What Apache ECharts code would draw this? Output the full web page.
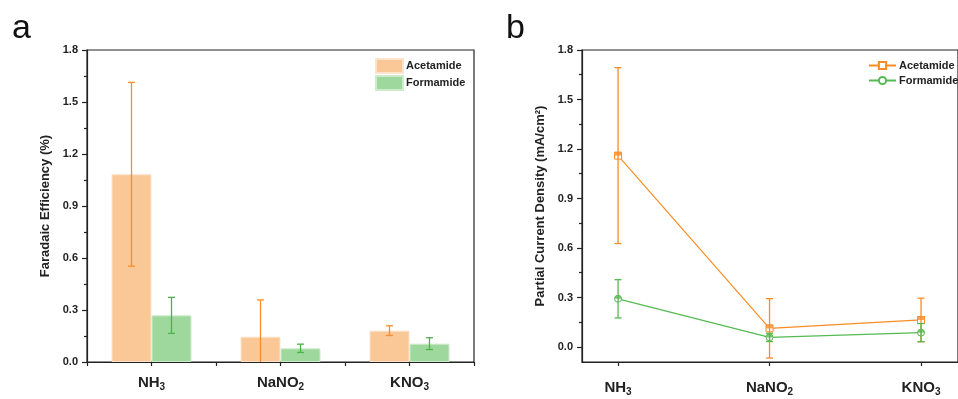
<!DOCTYPE html>
<html>
<head>
<meta charset="utf-8">
<script src="https://cdn.jsdelivr.net/npm/echarts@6/dist/echarts.min.js"></script>
<style>
  html, body { margin: 0; padding: 0; background: #fff; }
  #chart { width: 958px; height: 399px; }
</style>
</head>
<body>
<div id="chart"></div>
<script>
// categorías (se dibujan con subíndice en la etiqueta)
const categories = ["NH3", "NaNO2", "KNO3"];
const catRich = { NH3: "{m|NH}{s|3}", NaNO2: "{m|NaNO}{s|2}", KNO3: "{m|KNO}{s|3}" };

// panel a: eficiencia faradaica (%)
const acetFE = [1.083, 0.146, 0.181];
const acetFEErr = [0.53, 0.212, 0.028];
const formFE = [0.269, 0.079, 0.106];
const formFEErr = [0.104, 0.024, 0.034];

// panel b: densidad de corriente parcial (mA/cm2)
const acetJ = [1.16, 0.113, 0.164];
const acetJErr = [0.533, 0.18, 0.132];
const formJ = [0.292, 0.058, 0.087];
const formJErr = [0.116, 0.025, 0.055];

const yTicks = [0, 0.3, 0.6, 0.9, 1.2, 1.5, 1.8];
const yMinorTicks = [0.15, 0.45, 0.75, 1.05, 1.35, 1.65];
const catIdx = [0, 1, 2];

const C = {
  barO: "#FAC796", barG: "#9FD89D",
  errO: "#F98D2C", errG: "#4CB24A",
  lineO: "#F98C25", lineG: "#55BA52",
  ink: "#222",
};
const FONT = "'Liberation Sans', Arial, sans-serif";

const chart = echarts.init(document.getElementById("chart"), null, { renderer: "canvas" });

const rich = {
  m: { fontSize: 15, fontWeight: "bold", color: C.ink, fontFamily: FONT, lineHeight: 18 },
  s: { fontSize: 10, fontWeight: "bold", color: C.ink, fontFamily: FONT, lineHeight: 18, verticalAlign: "bottom", padding: [8, 0, 0, 0] },
};

const axisLine = { show: true, onZero: false, lineStyle: { color: C.ink, width: 1.2 } };
const tickStyle = { color: C.ink, width: 1.2 };
const tickLabel = { color: C.ink, fontSize: 11, fontWeight: "bold", fontFamily: FONT };
const nameStyle = { color: C.ink, fontSize: 13, fontWeight: "bold", fontFamily: FONT };

/** barras de error verticales (custom) con desplazamiento en px */
function errSeries(xi, yi, vals, errs, color, dx) {
  return {
    type: "custom",
    xAxisIndex: xi,
    yAxisIndex: yi,
    clip: true,
    z: 5,
    silent: true,
    data: vals.map((v, i) => [i, v - errs[i], v + errs[i]]),
    renderItem: (params, api) => {
      const lo = api.coord([api.value(0), api.value(1)]);
      const hi = api.coord([api.value(0), api.value(2)]);
      const x = lo[0] + dx;
      const w = 3.5;
      const st = { stroke: color, lineWidth: 1.3 };
      return {
        type: "group",
        children: [
          { type: "line", shape: { x1: x, y1: lo[1], x2: x, y2: hi[1] }, style: st },
          { type: "line", shape: { x1: x - w, y1: lo[1], x2: x + w, y2: lo[1] }, style: st },
          { type: "line", shape: { x1: x - w, y1: hi[1], x2: x + w, y2: hi[1] }, style: st },
        ],
      };
    },
  };
}

const halfRect = "path://M0,0 L10,0 L10,5 L0,5 Z";
const halfCircle = "path://M0,10 A10,10 0 0 1 20,10 Z";

/** línea con marcador hueco + mitad superior rellena */
function lineSeries(name, vals, color, symbol, halfPath) {
  const data = vals.map((v, i) => [i, v]);
  return [
    {
      name,
      type: "line",
      xAxisIndex: 2,
      yAxisIndex: 1,
      data,
      color,
      symbol,
      symbolSize: 7,
      showAllSymbol: true,
      lineStyle: { color, width: 1.2 },
      itemStyle: { color: "#fff", borderColor: color, borderWidth: 1 },
      z: 3,
    },
    {
      type: "scatter",
      xAxisIndex: 2,
      yAxisIndex: 1,
      data,
      symbol: halfPath,
      symbolSize: [7, 3.5],
      symbolOffset: [0, -1.75],
      itemStyle: { color },
      z: 6,
      silent: true,
    },
  ];
}

chart.setOption({
  animation: false,
  textStyle: { fontFamily: FONT },
  title: [
    { text: "a", left: 7, top: 7, textStyle: { fontSize: 34, fontWeight: "normal", color: "#111", fontFamily: FONT } },
    { text: "b", left: 501, top: 7, textStyle: { fontSize: 34, fontWeight: "normal", color: "#111", fontFamily: FONT } },
  ],
  grid: [
    { left: 87, top: 50, width: 387, height: 312, show: true, borderColor: C.ink, borderWidth: 1.2, backgroundColor: "transparent" },
    { left: 582, top: 50, width: 386, height: 312, show: true, borderColor: C.ink, borderWidth: 1.2, backgroundColor: "transparent" },
  ],
  legend: [
    {
      orient: "vertical",
      left: 375,
      top: 58,
      padding: 0,
      itemWidth: 27,
      itemHeight: 14,
      itemGap: 1,
      icon: "rect",
      data: ["Acetamide", "Formamide"],
      textStyle: { color: C.ink, fontSize: 11, fontWeight: "bold", fontFamily: FONT, padding: [0, 0, 0, -2] },
    },
    {
      orient: "vertical",
      left: 868,
      top: 60,
      padding: 0,
      itemWidth: 27,
      itemHeight: 9,
      itemGap: 4,
      data: ["Acetamide_b", "Formamide_b"],
      formatter: (n) => n.replace("_b", ""),
      textStyle: { color: C.ink, fontSize: 11, fontWeight: "bold", fontFamily: FONT, padding: [0, 0, 0, -2] },
    },
  ],
  xAxis: [
    {
      // panel a: etiquetas y ticks en los bordes de banda
      type: "category",
      gridIndex: 0,
      data: categories,
      axisLine,
      axisTick: { show: true, length: 4, lineStyle: tickStyle },
      axisLabel: { margin: 12, formatter: (v) => catRich[v], rich },
      splitLine: { show: false },
    },
    {
      // panel a: ticks al centro de cada categoría
      type: "value",
      gridIndex: 0,
      position: "bottom",
      min: -0.5,
      max: 2.5,
      axisLine: { show: false, onZero: false },
      axisTick: { show: true, length: 4, customValues: catIdx, lineStyle: tickStyle },
      axisLabel: { show: false, customValues: catIdx },
      splitLine: { show: false },
    },
    {
      type: "value",
      gridIndex: 1,
      min: -0.238,
      max: 2.244,
      axisLine,
      axisTick: { show: true, length: 4, customValues: catIdx, lineStyle: tickStyle },
      axisLabel: { margin: 17, customValues: catIdx, formatter: (v) => catRich[categories[Math.round(v)]], rich },
      splitLine: { show: false },
    },
  ],
  yAxis: [
    {
      type: "value",
      gridIndex: 0,
      min: 0,
      max: 1.8,
      interval: 0.3,
      name: "Faradaic Efficiency (%)",
      nameLocation: "middle",
      nameGap: 35,
      nameTextStyle: nameStyle,
      axisLine,
      axisTick: { show: true, length: 5, lineStyle: tickStyle },
      minorTick: { show: true, splitNumber: 2, length: 3, lineStyle: tickStyle },
      axisLabel: { ...tickLabel, margin: 9, formatter: (v) => v.toFixed(1) },
      splitLine: { show: false },
    },
    {
      type: "value",
      gridIndex: 1,
      min: -0.091,
      max: 1.8,
      name: "Partial Current Density (mA/cm²)",
      nameLocation: "middle",
      nameGap: 35,
      nameTextStyle: nameStyle,
      axisLine,
      axisTick: { show: true, length: 5, customValues: yTicks, lineStyle: tickStyle },
      axisLabel: { ...tickLabel, margin: 9, customValues: yTicks, formatter: (v) => v.toFixed(1) },
      splitLine: { show: false },
    },
    {
      type: "value",
      gridIndex: 1,
      position: "left",
      min: -0.091,
      max: 1.8,
      axisLine: { show: false, onZero: false },
      axisTick: { show: true, length: 3, customValues: yMinorTicks, lineStyle: tickStyle },
      axisLabel: { show: false, customValues: yMinorTicks },
      splitLine: { show: false },
    },
  ],
  series: [
    {
      name: "Acetamide",
      type: "bar",
      xAxisIndex: 0,
      yAxisIndex: 0,
      data: acetFE,
      barWidth: 40,
      barGap: "0%",
      itemStyle: { color: C.barO, borderColor: "#FDE3CB", borderWidth: 1 },
    },
    {
      name: "Formamide",
      type: "bar",
      xAxisIndex: 0,
      yAxisIndex: 0,
      data: formFE,
      barWidth: 40,
      barGap: "0%",
      itemStyle: { color: C.barG, borderColor: "#CFEBCD", borderWidth: 1 },
    },
    errSeries(0, 0, acetFE, acetFEErr, C.errO, -20),
    errSeries(0, 0, formFE, formFEErr, C.errG, 20),
    ...lineSeries("Acetamide_b", acetJ, C.lineO, "rect", halfRect),
    ...lineSeries("Formamide_b", formJ, C.lineG, "circle", halfCircle),
    errSeries(2, 1, acetJ, acetJErr, C.lineO, 0),
    errSeries(2, 1, formJ, formJErr, C.lineG, 0),
  ],
});
</script>
</body>
</html>
